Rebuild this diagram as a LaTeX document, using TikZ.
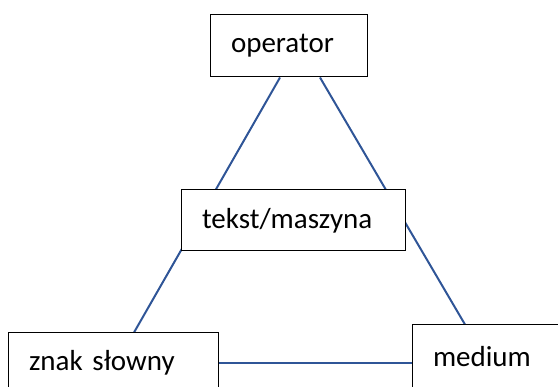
\documentclass[tikz,border=0pt]{standalone}
\usepackage{fontspec}
\setmainfont{Carlito}
\usepackage{tikz}
\usetikzlibrary{backgrounds}
\definecolor{linkblue}{RGB}{47,85,151}
\tikzset{
  box/.style={rectangle, draw=black, fill=white, line width=1pt,
    align=left, inner xsep=21pt, inner ysep=0pt,
    font=\fontsize{29}{35}\selectfont},
  link/.style={draw=linkblue, line width=2pt}
}
\begin{document}
\begin{tikzpicture}[x=1pt, y=-1pt]
  \clip (0,0) rectangle (558,387);

  % boxes
  \node[box, text width=115pt, minimum height=62pt] (operator) at (288.5,46) {operator};
  \node[box, text width=182pt, minimum height=61pt] (tekst) at (293,220.5) {tekst/maszyna};
  \node[box, text width=168pt, minimum height=60pt] (znak) at (113,363) {znak słowny};
  \node[box, text width=108pt, minimum height=64pt] (medium) at (487,357) {medium};

  % triangle
  \begin{pgfonlayer}{background}
    \draw[link] ([xshift=-8.5pt]operator.south) -- ([xshift=21pt]znak.north);
    \draw[link] ([xshift=31.5pt]operator.south) -- ([xshift=-22pt]medium.north);
    \draw[link] (znak.east) -- (znak.east -| medium.west);
  \end{pgfonlayer}
\end{tikzpicture}
\end{document}
